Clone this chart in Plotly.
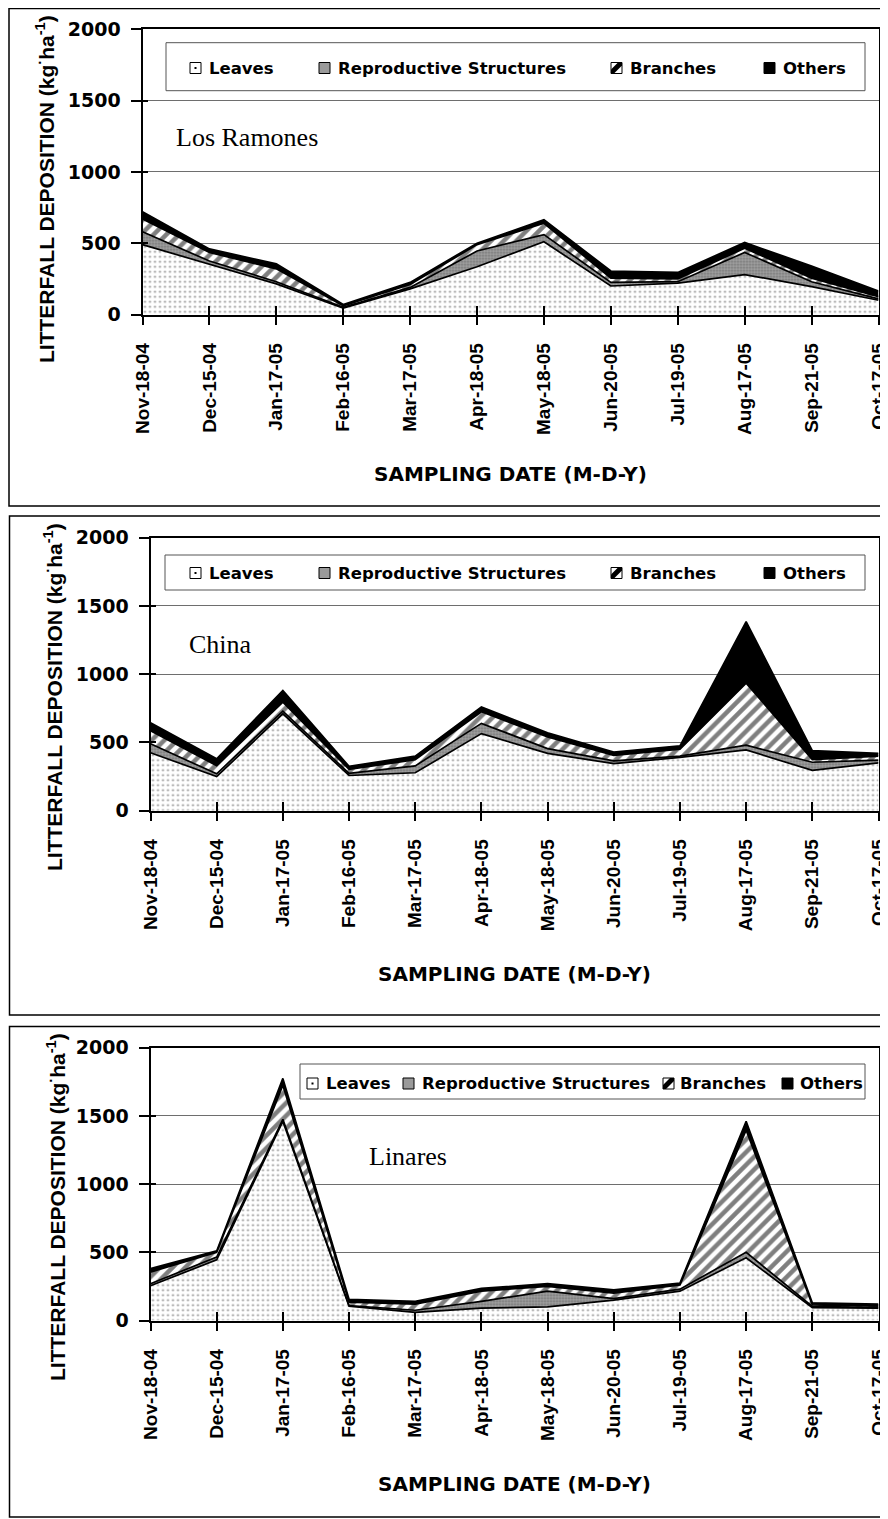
import plotly.graph_objects as go

# ---------------- data ----------------
dates = ["Nov-18-04", "Dec-15-04", "Jan-17-05", "Feb-16-05", "Mar-17-05", "Apr-18-05",
         "May-18-05", "Jun-20-05", "Jul-19-05", "Aug-17-05", "Sep-21-05", "Oct-17-05"]
series_names = ["Leaves", "Reproductive Structures", "Branches", "Others"]
site_names = ["Los Ramones", "China", "Linares"]

ramones_leaves = [490, 355, 215, 45, 180, 335, 510, 200, 220, 280, 195, 100]
ramones_repro = [90, 20, 15, 5, 10, 110, 50, 25, 10, 155, 35, 10]
ramones_branches = [90, 60, 90, 10, 20, 45, 80, 30, 20, 30, 25, 15]
ramones_others = [50, 25, 35, 10, 15, 10, 25, 50, 45, 40, 85, 40]

china_leaves = [425, 250, 710, 258, 278, 565, 420, 345, 390, 445, 295, 350]
china_repro = [65, 20, 20, 15, 50, 75, 35, 20, 10, 35, 60, 20]
china_branches = [95, 60, 65, 30, 45, 85, 85, 40, 50, 455, 20, 30]
china_others = [60, 50, 85, 22, 27, 35, 30, 25, 25, 450, 65, 20]

linares_leaves = [255, 445, 1460, 105, 60, 90, 100, 150, 215, 460, 95, 90]
linares_repro = [15, 20, 15, 5, 15, 50, 115, 10, 15, 40, 8, 5]
linares_branches = [85, 35, 250, 25, 45, 75, 35, 40, 30, 895, 12, 10]
linares_others = [25, 10, 50, 20, 20, 20, 20, 25, 15, 65, 15, 15]

y_ticks = [0, 500, 1000, 1500, 2000]

panels = [
    (ramones_leaves, ramones_repro, ramones_branches, ramones_others),
    (china_leaves, china_repro, china_branches, china_others),
    (linares_leaves, linares_repro, linares_branches, linares_others),
]

# ---------------- layout helpers (page pixels -> paper) ----------------
OFF = 8                      # the page body offsets the figure by 8 px
W, H = 888 - OFF, 1519 - OFF
def fx(p):
    return (p - OFF) / W
def fy(p):
    return 1 - (p - OFF) / H

# plot-area pixel boxes: (left, right, top, bottom)
plot_px = [(142.5, 878.5, 29.3, 314.5), (150.5, 878.5, 537.7, 810.7), (150.5, 878.5, 1047.7, 1320.5)]
outer_px = [(9, 506, 8.5), (9.5, 1015, 516), (9.5, 1517, 1026.5)]  # left, bottom, top
legend_box = [(166, 865, 42.7, 90.7), (165, 865, 555, 590), (300, 865, 1064, 1099)]
legend_icon_x = [[190, 319, 611, 764], [190, 319, 611, 764], [307, 403, 663, 782]]
legend_text_x = [[207, 336, 628, 781], [207, 336, 628, 781], [324, 420, 678, 798]]
legend_cy = [68, 573, 1083.5]
site_pos = [(174, 137), (187, 644), (367, 1156)]
ytitle_pos = [(45, 189), (53, 697), (56, 1207)]
xtitle_pos = [(510.5, 474), (514.5, 974), (514.5, 1484)]

SANS = "Arial, Liberation Sans, sans-serif"
WIDE = "DejaVu Sans, Arial, sans-serif"
SERIF = "Times New Roman, Liberation Serif, serif"

styles = [
    dict(fillpattern=dict(shape=".", bgcolor="white", fgcolor="#222222", size=5, solidity=0.15)),
    dict(fillpattern=dict(shape=".", bgcolor="#a0a0a0", fgcolor="#404040", size=3, solidity=0.35)),
    dict(fillpattern=dict(shape="/", bgcolor="white", fgcolor="black", size=9, solidity=0.5)),
    dict(fillcolor="black"),
]

fig = go.Figure()
layout = dict(width=W, height=H, margin=dict(l=0, r=0, t=0, b=0, pad=0, autoexpand=False),
              plot_bgcolor="white", paper_bgcolor="white", showlegend=False)
shapes = []
annotations = []

for i in range(3):
    xb = "x" if i == 0 else f"x{i+1}"
    yb = "y" if i == 0 else f"y{i+1}"
    xo = f"x{i+4}"
    yo = f"y{i+4}"
    data = panels[i]
    for k in range(4):
        fig.add_trace(go.Scatter(
            x=dates, y=data[k], name=series_names[k], mode="lines",
            stackgroup=f"g{i}", line=dict(color="black", width=1.7),
            xaxis=xb, yaxis=yb, hoverinfo="x+y+name", **styles[k]))
    # dummy trace for the overlay axes (inside tick marks)
    fig.add_trace(go.Scatter(x=dates, y=[None] * len(dates), mode="lines",
                             xaxis=xo, yaxis=yo, hoverinfo="skip"))

    l, r, t, b = plot_px[i]
    xn = "xaxis" if i == 0 else f"xaxis{i+1}"
    yn = "yaxis" if i == 0 else f"yaxis{i+1}"
    layout[xn] = dict(domain=[fx(l), fx(r)], anchor=yb, type="category",
                      categoryorder="array", categoryarray=dates, range=[0, len(dates) - 1],
                      showline=True, linecolor="black", linewidth=2, mirror=True,
                      ticks="outside", ticklen=8, tickwidth=1.5, tickcolor="black",
                      tickangle=-90, tickfont=dict(family=SANS, size=19, color="black", weight="bold"),
                      showgrid=False, zeroline=False, ticklabelstandoff=11, automargin=False)
    layout[yn] = dict(domain=[fy(b), fy(t)], anchor=xb, range=[0, 2000],
                      tickmode="array", tickvals=y_ticks,
                      showline=True, linecolor="black", linewidth=2, mirror=True,
                      ticks="outside", ticklen=10, tickwidth=1.5, tickcolor="black",
                      tickfont=dict(family=WIDE, size=19, color="black", weight="bold"),
                      showgrid=True, gridcolor="#6e6e6e", gridwidth=1, zeroline=False,
                      ticklabelstandoff=6, automargin=False)
    layout[f"xaxis{i+4}"] = dict(overlaying=xb, anchor=yo, type="category",
                                 categoryorder="array", categoryarray=dates, range=[0, len(dates) - 1],
                                 ticks="inside", ticklen=9, tickwidth=1.5, tickcolor="black",
                                 showticklabels=False, showline=False, showgrid=False, zeroline=False,
                                 automargin=False)
    layout[f"yaxis{i+4}"] = dict(overlaying=yb, anchor=xo, range=[0, 2000],
                                 tickmode="array", tickvals=y_ticks,
                                 ticks="inside", ticklen=5, tickwidth=1.5, tickcolor="black",
                                 showticklabels=False, showline=False, showgrid=False, zeroline=False,
                                 automargin=False)

    # outer panel frame (right side runs off the page)
    ol, ob, ot = outer_px[i]
    shapes.append(dict(type="rect", xref="paper", yref="paper", x0=fx(ol), x1=fx(900),
                       y0=fy(ob), y1=fy(ot), line=dict(color="black", width=1.5), layer="below"))

    # legend box
    bl, br, bt, bb = legend_box[i]
    shapes.append(dict(type="rect", xref="paper", yref="paper", x0=fx(bl), x1=fx(br),
                       y0=fy(bb), y1=fy(bt), line=dict(color="#555555", width=1),
                       fillcolor="white", layer="above"))
    cy = legend_cy[i]
    s = 11
    for k in range(4):
        x0 = legend_icon_x[i][k]
        y0 = cy - s / 2
        fill = ["white", "#9a9a9a", "white", "black"][k]
        shapes.append(dict(type="rect", xref="paper", yref="paper", x0=fx(x0), x1=fx(x0 + s),
                           y0=fy(y0 + s), y1=fy(y0), fillcolor=fill,
                           line=dict(color="black", width=1), layer="above"))
        if k == 0:
            shapes.append(dict(type="rect", xref="paper", yref="paper",
                               x0=fx(x0 + 4.5), x1=fx(x0 + 6.5), y0=fy(y0 + 6.5), y1=fy(y0 + 4.5),
                               fillcolor="black", line=dict(width=0), layer="above"))
        if k == 2:
            path = (f"M {fx(x0)} {fy(y0 + s - 4)} L {fx(x0 + s - 4)} {fy(y0)} "
                    f"L {fx(x0 + s)} {fy(y0)} L {fx(x0 + s)} {fy(y0 + 3)} "
                    f"L {fx(x0 + 3)} {fy(y0 + s)} L {fx(x0)} {fy(y0 + s)} Z")
            shapes.append(dict(type="path", xref="paper", yref="paper", path=path,
                               fillcolor="black", line=dict(width=0), layer="above"))
        annotations.append(dict(xref="paper", yref="paper", x=fx(legend_text_x[i][k]), y=fy(cy),
                                xanchor="left", yanchor="middle", showarrow=False,
                                text=series_names[k],
                                font=dict(family=WIDE, size=16.5, color="black", weight="bold")))

    # site label
    sx, sy = site_pos[i]
    annotations.append(dict(xref="paper", yref="paper", x=fx(sx), y=fy(sy), xanchor="left",
                            yanchor="middle", showarrow=False, text=site_names[i],
                            font=dict(family=SERIF, size=26, color="black")))
    # y title
    tx, ty = ytitle_pos[i]
    annotations.append(dict(xref="paper", yref="paper", x=fx(tx), y=fy(ty), xanchor="center",
                            yanchor="middle", showarrow=False, textangle=-90,
                            text="LITTERFALL DEPOSITION (kg<sup>·</sup>ha<sup>-1</sup>)",
                            font=dict(family=SANS, size=21, color="black", weight="bold")))
    # x title
    tx, ty = xtitle_pos[i]
    annotations.append(dict(xref="paper", yref="paper", x=fx(tx), y=fy(ty), xanchor="center",
                            yanchor="middle", showarrow=False, text="SAMPLING DATE (M-D-Y)",
                            font=dict(family=WIDE, size=20, color="black", weight="bold")))

layout["shapes"] = shapes
layout["annotations"] = annotations
fig.update_layout(**layout)
fig.write_html("out.html")
